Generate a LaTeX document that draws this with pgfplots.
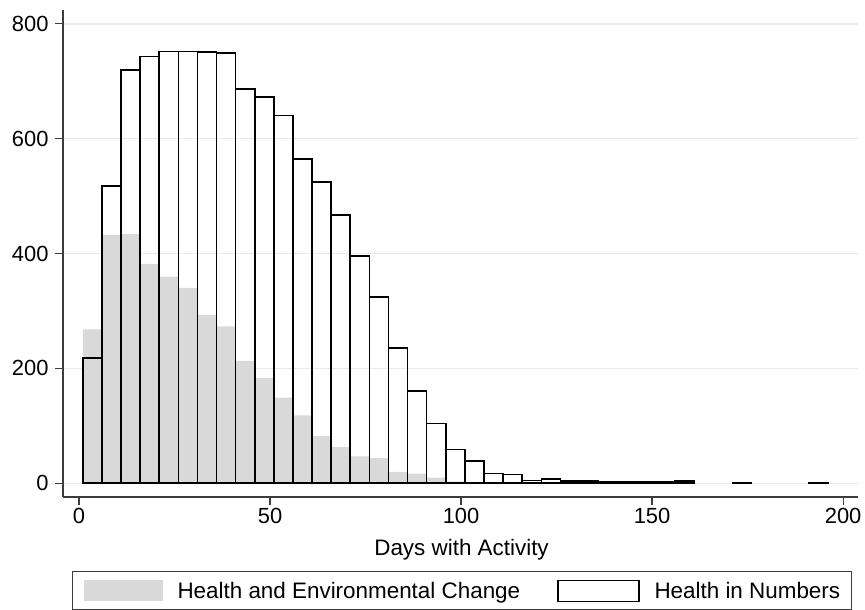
\documentclass[border=0pt]{standalone}
\usepackage{fontspec}
\setmainfont{Liberation Sans}
\usepackage{pgfplots}
\pgfplotsset{compat=1.18}
\definecolor{barg}{RGB}{217,217,217}
\definecolor{gridc}{RGB}{230,236,238}
\definecolor{axc}{RGB}{60,60,60}
\begin{document}
\begin{tikzpicture}
\path[use as bounding box] (-63bp,-113bp) rectangle (802bp,497bp);
\begin{axis}[
  at={(0,0)}, anchor=south west,
  scale only axis, width=795bp, height=487bp,
  xmin=-4.2, xmax=203.9, ymin=-23.9, ymax=824,
  axis x line*=bottom, axis y line*=left,
  axis line style={-, draw=axc, line width=1.2bp},
  xtick={0,50,...,200}, ytick={0,200,...,800},
  tick align=outside, major tick length=8bp,
  tick style={draw=axc, line width=1.2bp},
  ymajorgrids, major grid style={draw=gridc, line width=1.5bp},
  /pgf/number format/assume math mode=true,
  tick label style={font=\fontsize{22}{22}\selectfont},
  yticklabel style={xshift=-3bp},
  xlabel={Days with Activity},
  xlabel style={font=\fontsize{22.5}{22.5}\selectfont, at={(axis description cs:0.5013,-0.1191)}, anchor=base},
  legend columns=2,
  legend style={at={(0.0113,-0.152)}, anchor=north west, draw=axc, line width=1.1bp,
    inner xsep=11bp, inner ysep=8bp, font=\fontsize{22.5}{22.5}\selectfont,
    nodes={inner sep=0pt},
    /tikz/every even column/.append style={column sep=37bp},
    /tikz/every odd column/.append style={column sep=15bp}},
]
\addplot[ybar, bar width=5, bar shift=0pt, fill=barg, draw=none,
  legend image code/.code={\fill[barg] (0bp,-10.5bp) rectangle (79bp,10.5bp);}]
coordinates {
(3.5,268) (8.5,432) (13.5,434) (18.5,382) (23.5,360) (28.5,340) (33.5,293) (38.5,273)
(43.5,213) (48.5,183) (53.5,149) (58.5,118) (63.5,82) (68.5,63) (73.5,47) (78.5,44)
(83.5,20) (88.5,17) (93.5,10) (98.5,3) (103.5,2) (108.5,1)
};
\addplot[ybar, bar width=5, bar shift=0pt, fill=none, draw=black, line width=1.6bp,
  legend image code/.code={\draw[black, line width=1.3bp, fill=white] (0bp,-10.5bp) rectangle (81bp,10.5bp);}]
coordinates {
(3.5,218) (8.5,518) (13.5,720) (18.5,743) (23.5,752) (28.5,752) (33.5,751) (38.5,749)
(43.5,686) (48.5,673) (53.5,640) (58.5,565) (63.5,525) (68.5,467) (73.5,396) (78.5,324)
(83.5,236) (88.5,161) (93.5,104) (98.5,59) (103.5,39) (108.5,17) (113.5,15) (118.5,5)
(123.5,7) (128.5,4) (133.5,4) (138.5,2) (143.5,2) (148.5,2) (153.5,2) (158.5,4)
(173.5,1) (193.5,1)
};
\legend{Health and Environmental Change, Health in Numbers\hspace{4bp}}
\end{axis}
\end{tikzpicture}
\end{document}
